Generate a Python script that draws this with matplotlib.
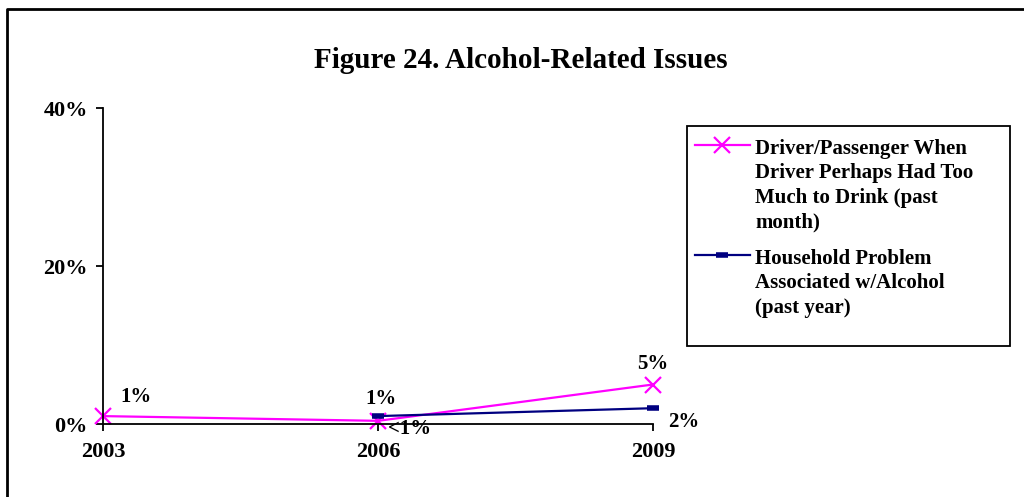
import matplotlib.pyplot as plt
from matplotlib.lines import Line2D
from matplotlib.patches import Rectangle

# --- Data ---
years = [2003, 2006, 2009]
driver_pct = [1.0, 0.4, 5.0]
household_years = [2006, 2009]
household_pct = [1.0, 2.0]
driver_labels = ["1%", "<1%", "5%"]
household_labels = ["1%", "2%"]
y_ticks = [0, 20, 40]
y_tick_labels = ["0%", "20%", "40%"]

title = "Figure 24. Alcohol-Related Issues"
driver_name = "Driver/Passenger When\nDriver Perhaps Had Too\nMuch to Drink (past\nmonth)"
household_name = "Household Problem\nAssociated w/Alcohol\n(past year)"

DRIVER_COLOR = "#FF00FF"
HOUSE_COLOR = "#000080"

plt.rcParams['font.family'] = ['Liberation Serif', 'DejaVu Serif']
plt.rcParams['font.weight'] = 'bold'

W, H = 1024, 497
fig = plt.figure(figsize=(W / 100, H / 100), dpi=100)
ax = fig.add_axes([103 / W, 73 / H, 550 / W, 316 / H])

ax.plot(years, driver_pct, color=DRIVER_COLOR, lw=1.6, marker="x", ms=11, mew=1.6, clip_on=False)
ax.plot(household_years, household_pct, color=HOUSE_COLOR, lw=1.6, marker="_", ms=9, mew=4, clip_on=False)

# --- Data labels ---
lab_kw = dict(fontsize=15, fontweight="bold", textcoords="offset points", ha="center", va="center")
ax.annotate(driver_labels[0], (years[0], driver_pct[0]), xytext=(24, 14), **lab_kw)
ax.annotate(driver_labels[1], (years[1], driver_pct[1]), xytext=(23, -6), **lab_kw)
ax.annotate(driver_labels[2], (years[2], driver_pct[2]), xytext=(0, 15), **lab_kw)
ax.annotate(household_labels[0], (household_years[0], household_pct[0]), xytext=(2, 12), **lab_kw)
ax.annotate(household_labels[1], (household_years[1], household_pct[1]), xytext=(22, -10), **lab_kw)

# --- Axes styling ---
ax.set_xlim(years[0], years[-1])
ax.set_ylim(0, 40)
ax.set_xticks(years)
ax.set_xticklabels([str(y) for y in years], fontsize=16, fontweight="bold")
ax.set_yticks(y_ticks)
ax.set_yticklabels(y_tick_labels, fontsize=16, fontweight="bold")
ax.tick_params(axis="both", direction="out", length=5, width=1.3, color="black")
ax.tick_params(axis="x", pad=8)
ax.tick_params(axis="y", pad=6)
for s in ["top", "right"]:
    ax.spines[s].set_visible(False)
for s in ["left", "bottom"]:
    ax.spines[s].set_linewidth(1.3)

fig.text(521 / W, 1 - 60 / H, title, ha="center", va="center", fontsize=21, fontweight="bold")

# --- Legend (drawn by hand so handles line up with the first text line) ---
fig.add_artist(Rectangle((687 / W, 1 - 346 / H), (1010 - 687) / W, (346 - 126) / H,
                         transform=fig.transFigure, fill=False, edgecolor="black", lw=1.3))
legend_items = [(driver_name, DRIVER_COLOR, "x", 11, 1.6, 145),
                (household_name, HOUSE_COLOR, "_", 9, 4, 255)]
for name, color, mk, ms, mew, y in legend_items:
    fig.add_artist(Line2D([695 / W, 750 / W], [1 - y / H] * 2, transform=fig.transFigure,
                          color=color, lw=1.6))
    fig.add_artist(Line2D([722 / W], [1 - y / H], transform=fig.transFigure, color=color,
                          marker=mk, ms=ms, mew=mew, lw=0))
    fig.text(755 / W, 1 - (y - 6) / H, name, ha="left", va="top", fontsize=15,
             fontweight="bold", linespacing=1.29)

# --- Outer chart border (left and top edges visible) ---
fig.add_artist(Line2D([7 / W, 7 / W, 1.0], [0, 1 - 9 / H, 1 - 9 / H],
                      transform=fig.transFigure, color="black", lw=2))

fig.savefig("out.png", dpi=100)
